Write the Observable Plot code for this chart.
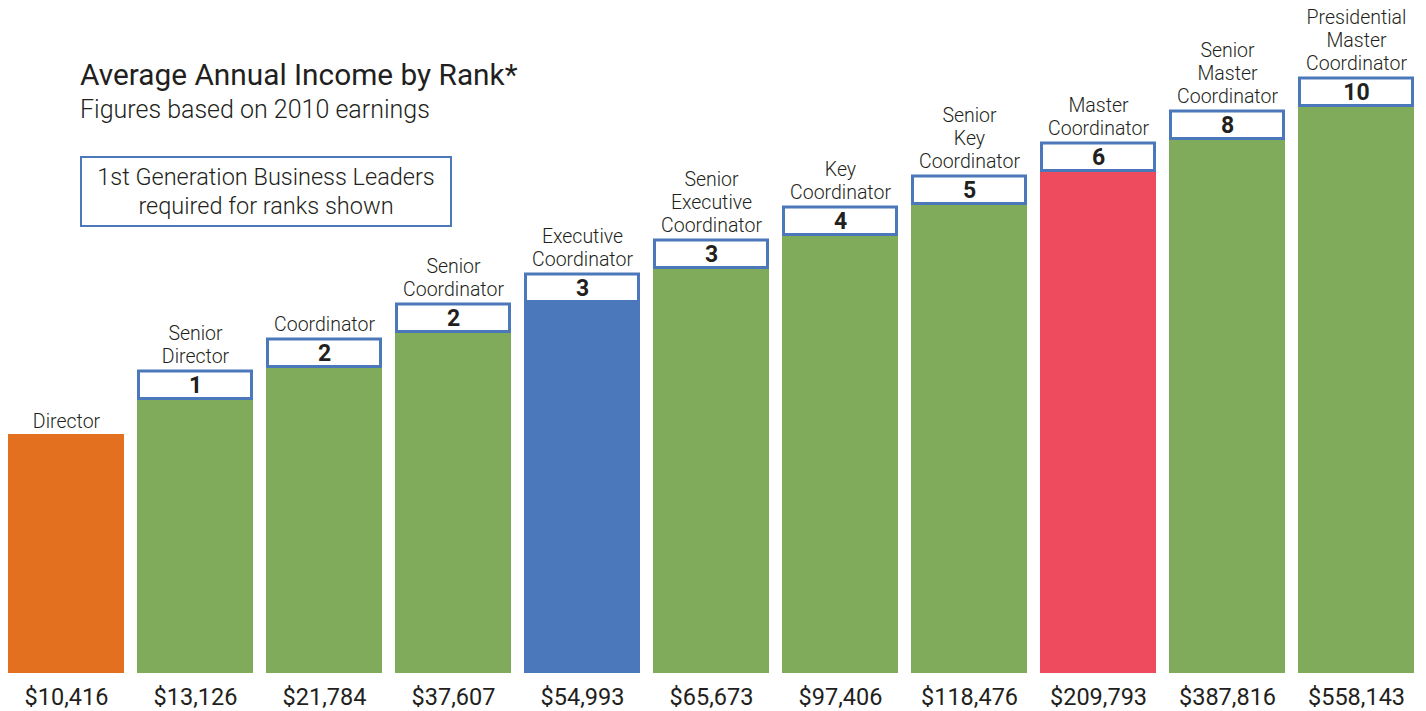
<!DOCTYPE html>
<html>
<head>
<meta charset="utf-8">
<script src="https://cdn.jsdelivr.net/npm/d3@7"></script>
<script src="https://cdn.jsdelivr.net/npm/@observablehq/plot@0.6"></script>
<style>
  html, body { margin: 0; padding: 0; background: #fff; }
  body { width: 1426px; height: 711px; position: relative; overflow: hidden; font-family: Roboto, "Liberation Sans", sans-serif; color: #231f20; }
  #chart { position: absolute; left: 0; top: 0; }
  .title { position: absolute; left: 80px; top: 57px; font-size: 29.8px; font-weight: 400; white-space: nowrap; }
  .subtitle { position: absolute; left: 80px; top: 95px; font-size: 25px; font-weight: 300; white-space: nowrap; }
  .legend { position: absolute; left: 80px; top: 156px; width: 372px; height: 71px; border: 2.5px solid #4a78ba; box-sizing: border-box;
            font-size: 23.5px; font-weight: 300; text-align: center; line-height: 29px; padding-top: 5px; white-space: nowrap; }
</style>
</head>
<body>
<div id="chart"></div>
<div class="title">Average Annual Income by Rank*</div>
<div class="subtitle">Figures based on 2010 earnings</div>
<div class="legend">1st Generation Business Leaders<br>required for ranks shown</div>
<script>
const ranks = ["Director", "Senior Director", "Coordinator", "Senior Coordinator", "Executive Coordinator",
  "Senior Executive Coordinator", "Key Coordinator", "Senior Key Coordinator", "Master Coordinator",
  "Senior Master Coordinator", "Presidential Master Coordinator"];
const rankLabels = ["Director", "Senior\nDirector", "Coordinator", "Senior\nCoordinator", "Executive\nCoordinator",
  "Senior\nExecutive\nCoordinator", "Key\nCoordinator", "Senior\nKey\nCoordinator", "Master\nCoordinator",
  "Senior\nMaster\nCoordinator", "Presidential\nMaster\nCoordinator"];
const incomes = [10416, 13126, 21784, 37607, 54993, 65673, 97406, 118476, 209793, 387816, 558143];
// Stylised (non-proportional) bar heights as drawn in the picture
const barLevels = [239, 273, 305, 340, 370, 404, 437, 468, 501, 533, 566];
const leadersRequired = [null, 1, 2, 2, 3, 3, 4, 5, 6, 8, 10];
const barColors = ["#e3701f", "#80ab5a", "#80ab5a", "#80ab5a", "#4a78ba", "#80ab5a", "#80ab5a", "#80ab5a", "#ee4b5e", "#80ab5a", "#80ab5a"];

const data = ranks.map((r, i) => ({
  rank: r, label: rankLabels[i], income: incomes[i], level: barLevels[i],
  leaders: leadersRequired[i], color: barColors[i]
}));
const boxH = 30.5;
const boxed = data.filter(d => d.leaders != null);
const fmt = d3.format("$,");

const chart = Plot.plot({
  width: 1426,
  height: 711,
  marginLeft: 0,
  marginRight: 4,
  marginTop: 0,
  marginBottom: 38,
  style: { fontFamily: "Roboto, 'Liberation Sans', sans-serif", color: "#231f20", background: "transparent" },
  x: { domain: ranks, paddingInner: 0.1, paddingOuter: 0.05, axis: null },
  y: { domain: [0, 673], axis: null },
  marks: [
    Plot.barY(data, { x: "rank", y: "level", fill: d => d.color }),
    Plot.barY(boxed, { x: "rank", y1: "level", y2: d => d.level + boxH, fill: "white", stroke: "#4a78ba", strokeWidth: 3, inset: 1.5 }),
    Plot.text(boxed, { x: "rank", y: d => d.level + boxH / 2, text: d => String(d.leaders), fontSize: 23, fontWeight: 700, fill: "#231f20", dy: 0.5 }),
    Plot.text(data, { x: "rank", y: d => d.leaders != null ? d.level + boxH : d.level, text: "label", lineAnchor: "bottom", lineHeight: 1.17, dy: -7, fontSize: 19.5, fontWeight: 300, fill: "#231f20" }),
    Plot.text(data, { x: "rank", y: 0, text: d => fmt(d.income), dy: 24, fontSize: 23.5, fill: "#231f20" })
  ]
});
document.getElementById("chart").appendChild(chart);
</script>
</body>
</html>
